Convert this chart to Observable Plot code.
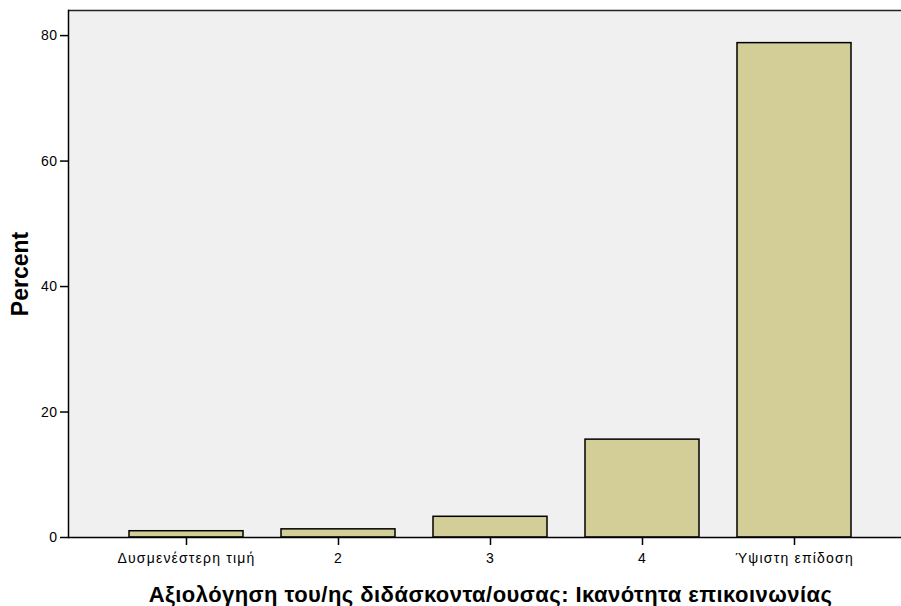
<!DOCTYPE html>
<html><head><meta charset="utf-8">
<script src="https://cdn.jsdelivr.net/npm/d3@7"></script>
<script src="https://cdn.jsdelivr.net/npm/@observablehq/plot@0.6"></script>
<style>
body{margin:0;background:#fff;overflow:hidden}
g[aria-label="x-axis tick label"] text{letter-spacing:1.2px}
g[aria-label="y-axis tick label"] text{letter-spacing:0.5px}
</style>
</head><body><div id="chart"></div>
<script>
const categories = ["Δυσμενέστερη τιμή", "2", "3", "4", "Ύψιστη επίδοση"];
const percents = [1.0, 1.3, 3.3, 15.6, 78.8];
const yTicks = [0, 20, 40, 60, 80];
const xTitle = "Αξιολόγηση του/ης διδάσκοντα/ουσας: Ικανότητα επικοινωνίας";
const yTitle = "Percent";
const data = categories.map((c, i) => ({category: c, percent: percents[i]}));

const chart = Plot.plot({
  width: 901, height: 606,
  marginLeft: 68, marginRight: 0, marginTop: 10, marginBottom: 69,
  style: {fontFamily: "'Liberation Sans', Arial, sans-serif", fontSize: "14px", color: "#000", background: "#fff", overflow: "hidden"},
  x: {domain: categories, range: [68, 912.5], paddingInner: 0.247, paddingOuter: 0.4, axis: null},
  y: {domain: [0, 84], axis: null},
  marks: [
    Plot.frame({fill: "#f0f0f0", stroke: null}),
    Plot.barY(data, {x: "category", y: "percent", fill: "#d3ce97", stroke: "#000", strokeWidth: 1.5}),
    Plot.ruleY([0], {stroke: "#000", strokeWidth: 1.5}),
    Plot.ruleY([84], {stroke: "#222", strokeWidth: 1.5}),
    Plot.frame({anchor: "left", stroke: "#000", strokeWidth: 1.5}),
    Plot.axisY({ticks: yTicks, tickSize: 8, tickPadding: 3, tickFormat: d => d, label: null, strokeWidth: 1.5, fontSize: 14}),
    Plot.axisX({tickSize: 8, tickPadding: 8, label: null, strokeWidth: 1.5, fontSize: 14}),
    Plot.text([xTitle], {frameAnchor: "bottom", text: d => d, textAnchor: "middle", lineAnchor: "middle", dx: 5.5, dy: 57, fontWeight: "bold", fontSize: 22}),
    Plot.text([yTitle], {frameAnchor: "left", text: d => d, textAnchor: "middle", lineAnchor: "middle", rotate: -90, dx: -48, fontWeight: "bold", fontSize: 23})
  ]
});
d3.select(chart).selectAll("text").filter(function() { return this.textContent === xTitle; }).style("letter-spacing", "0.45px");
document.getElementById("chart").appendChild(chart);
</script>
</body></html>
